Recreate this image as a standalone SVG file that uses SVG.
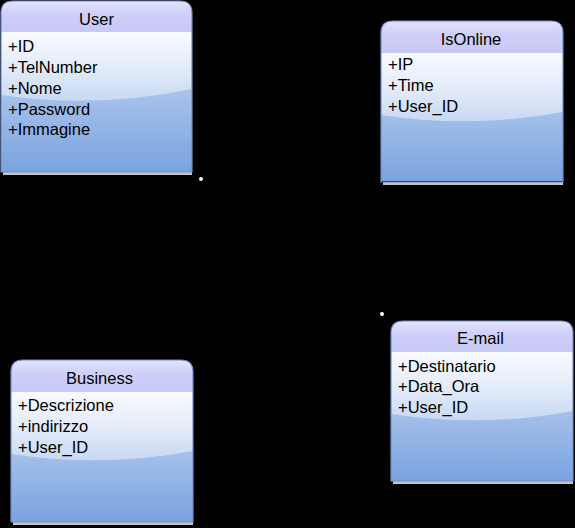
<svg xmlns="http://www.w3.org/2000/svg" width="575" height="528" viewBox="0 0 575 528">
<defs>
<linearGradient id="hdr" x1="0" y1="0" x2="0" y2="1">
<stop offset="0" stop-color="#e4e4fc"/>
<stop offset="0.4" stop-color="#cfd0f8"/>
<stop offset="1" stop-color="#c6c8f6"/>
</linearGradient>
<linearGradient id="body" x1="0" y1="0" x2="0" y2="1">
<stop offset="0" stop-color="#bcd0f1"/>
<stop offset="0.45" stop-color="#a6c1eb"/>
<stop offset="1" stop-color="#7aa3de"/>
</linearGradient>
<linearGradient id="gloss" x1="0" y1="0" x2="0" y2="1">
<stop offset="0" stop-color="#f8faff"/>
<stop offset="0.5" stop-color="#e4ecf9"/>
<stop offset="1" stop-color="#c8d9f3"/>
</linearGradient>
<style>
.t{font-family:"Liberation Sans",Arial,sans-serif;font-size:16.5px;fill:#000}
.c{text-anchor:middle}
.shadow{fill:#c4c4c4}
.edge{fill:none;stroke:#6f8ec6;stroke-width:1.2}
.conn{stroke:#000;stroke-width:1;fill:none}
.dot{fill:#fff}
</style>
</defs>
<rect width="575" height="528" fill="#000"/>

<g id="connectors">
<line class="conn" x1="192" y1="102" x2="381" y2="102"/>
<line class="conn" x1="71" y1="172" x2="71" y2="360"/>
<line class="conn" x1="201" y1="179" x2="382" y2="314"/>
<circle class="dot" cx="201" cy="179" r="2"/>
<circle class="dot" cx="382" cy="314" r="2"/>
</g>

<g id="User" transform="translate(1,1)">
<rect class="shadow" x="2" y="171" width="189" height="3"/>
<path d="M0,31 L191,31 L191,171 L0,171 Z" fill="url(#body)"/>
<path d="M0,31 L191,31 L191,88 Q95.5,108 0,94 Z" fill="url(#gloss)"/>
<path d="M0,31 L0,12 Q0,0 12,0 L179,0 Q191,0 191,12 L191,31 Z" fill="url(#hdr)"/>
<path class="edge" d="M0,171 L0,12 Q0,0 12,0 L179,0 Q191,0 191,12 L191,171 Z"/>
<text class="t c" x="95.5" y="24">User</text>
<text class="t" x="7" y="51">+ID</text>
<text class="t" x="7" y="72">+TelNumber</text>
<text class="t" x="7" y="92.5">+Nome</text>
<text class="t" x="7" y="113.5">+Password</text>
<text class="t" x="7" y="134">+Immagine</text>
</g>

<g id="IsOnline" transform="translate(381,21)">
<rect class="shadow" x="2" y="161" width="180" height="3"/>
<path d="M0,32 L182,32 L182,160 L0,160 Z" fill="url(#body)"/>
<path d="M0,32 L182,32 L182,91 Q91,108 0,94 Z" fill="url(#gloss)"/>
<path d="M0,32 L0,12 Q0,0 12,0 L170,0 Q182,0 182,12 L182,32 Z" fill="url(#hdr)"/>
<path class="edge" d="M0,161 L0,12 Q0,0 12,0 L170,0 Q182,0 182,12 L182,161 Z"/>
<text class="t c" x="90" y="23.5">IsOnline</text>
<text class="t" x="7" y="49">+IP</text>
<text class="t" x="7" y="70">+Time</text>
<text class="t" x="7" y="91">+User_ID</text>
</g>

<g id="Business" transform="translate(11,360)">
<rect class="shadow" x="2" y="162" width="180" height="3"/>
<path d="M0,32 L182,32 L182,162 L0,162 Z" fill="url(#body)"/>
<path d="M0,32 L182,32 L182,91 Q91,108 0,94 Z" fill="url(#gloss)"/>
<path d="M0,32 L0,12 Q0,0 12,0 L170,0 Q182,0 182,12 L182,32 Z" fill="url(#hdr)"/>
<path class="edge" d="M0,162 L0,12 Q0,0 12,0 L170,0 Q182,0 182,12 L182,162 Z"/>
<text class="t c" x="88.5" y="24">Business</text>
<text class="t" x="7" y="50.5">+Descrizione</text>
<text class="t" x="7" y="71.5">+indirizzo</text>
<text class="t" x="7" y="92.5">+User_ID</text>
</g>

<g id="E-mail" transform="translate(391,321)">
<rect class="shadow" x="2" y="160" width="180" height="3"/>
<path d="M0,31 L182,31 L182,160 L0,160 Z" fill="url(#body)"/>
<path d="M0,31 L182,31 L182,90 Q91,107 0,93 Z" fill="url(#gloss)"/>
<path d="M0,31 L0,12 Q0,0 12,0 L170,0 Q182,0 182,12 L182,31 Z" fill="url(#hdr)"/>
<path class="edge" d="M0,160 L0,12 Q0,0 12,0 L170,0 Q182,0 182,12 L182,160 Z"/>
<text class="t c" x="89.5" y="23">E-mail</text>
<text class="t" x="7" y="50.5">+Destinatario</text>
<text class="t" x="7" y="71">+Data_Ora</text>
<text class="t" x="7" y="91.5">+User_ID</text>
</g>
</svg>
